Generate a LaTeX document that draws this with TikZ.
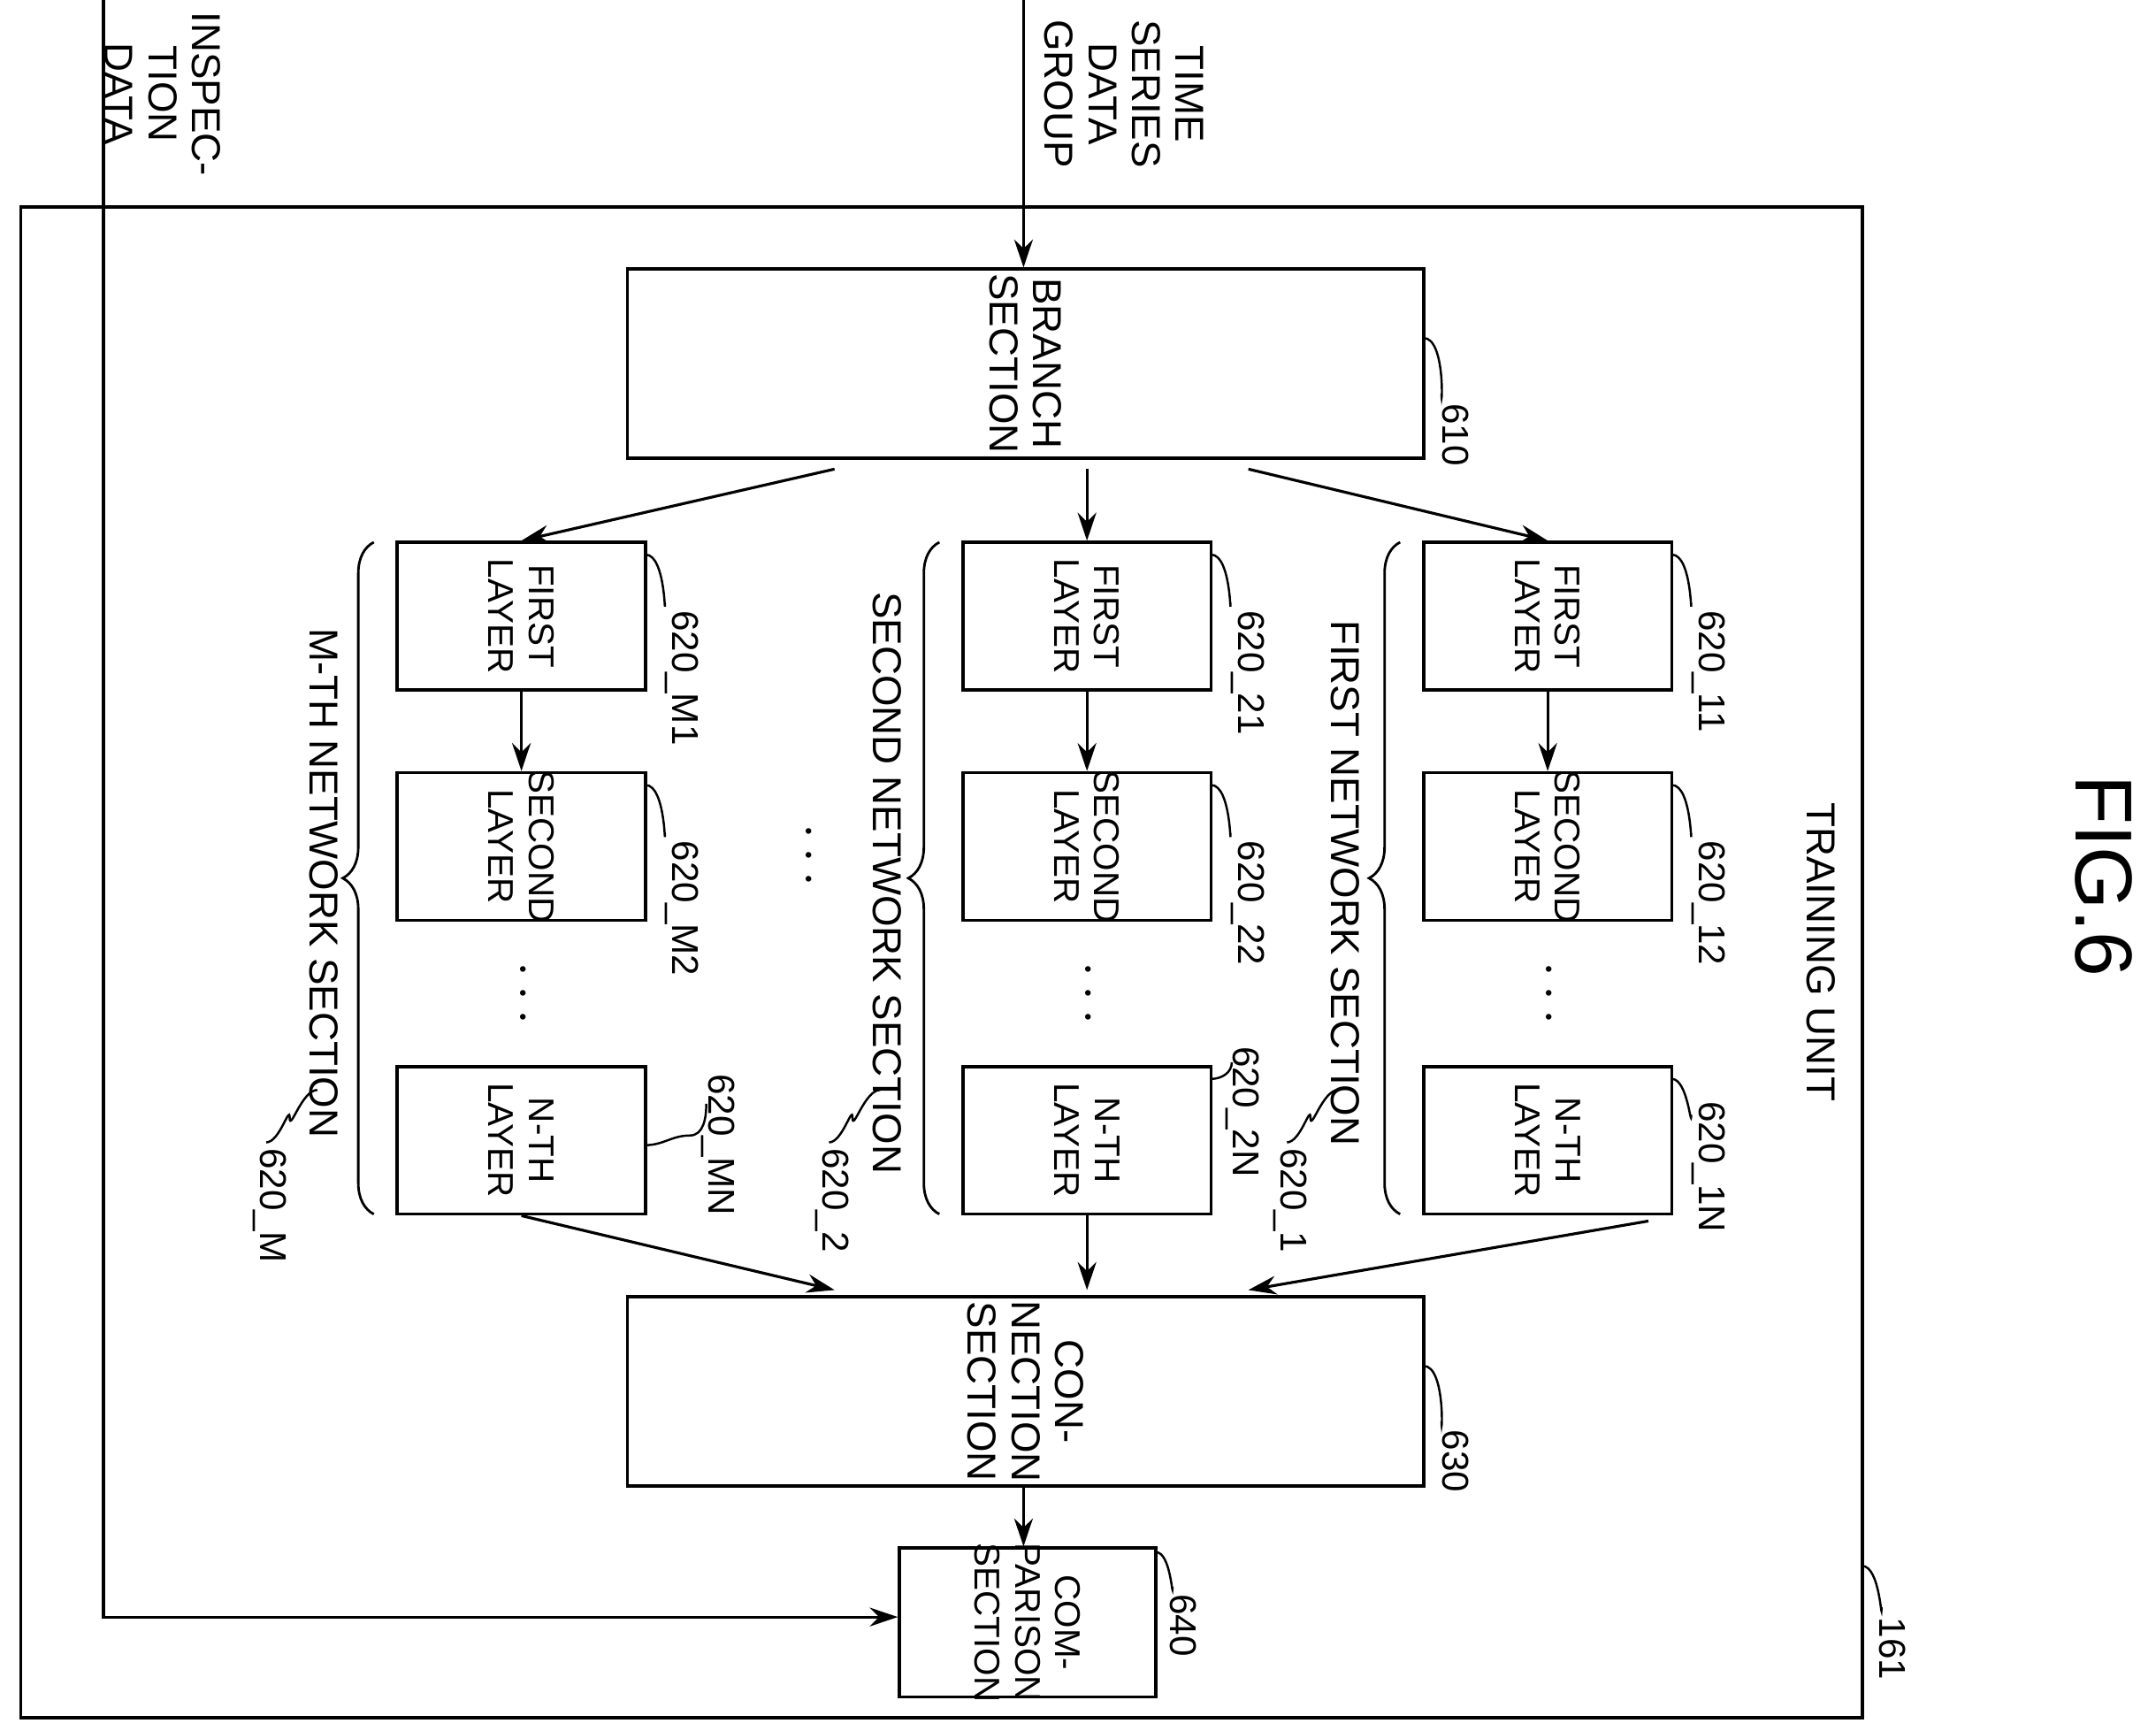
\documentclass[tikz,border=0pt]{standalone}
\usepackage{fontspec}
\setmainfont{Liberation Sans}
\usetikzlibrary{arrows.meta,decorations.pathreplacing}
\begin{document}
\begin{tikzpicture}[x=0.0156cm,y=-0.0156cm,
  box/.style={draw,line width=1pt},
  t/.style={rotate=-90,align=center,font=\fontsize{13}{14}\selectfont,inner sep=0pt},
  tl/.style={t,font=\fontsize{11.5}{13}\selectfont},
  lb/.style={rotate=-90,font=\fontsize{12}{13}\selectfont,inner sep=0pt,anchor=south west},
  ar/.style={-{Stealth[length=9pt,width=6pt]},line width=0.9pt},
  ld/.style={line width=0.7pt},
  br/.style={decorate,decoration={brace,amplitude=10pt},line width=0.8pt}]
\useasboundingbox (0,0) rectangle (1563,1254);
\draw[box] (15,150) rectangle (1350,1245);
\node[t] (fig) at (1525,635) {\fontsize{26}{28}\selectfont FIG.6};
\node[t] (tu) at (1320,690) {TRAINING UNIT};
\draw[ld] (1350,1135) to[out=0,in=270] (1364,1165);
\node[lb] (n161) at (1362,1172) {161};
% inputs
\node[t] (insp) at (118,68) {INSPEC-\\TION\\DATA};
\node[t] (ts) at (815,68) {TIME\\SERIES\\DATA\\GROUP};
\coordinate (i0) at (75,0); \coordinate (i1) at (75,1172);
\coordinate (t0) at (742,0);
% boxes
\node[box,minimum width=577*0.0156cm,minimum height=137*0.0156cm] (br) at (743.5,263.5) {};
\node[t] at (br) {BRANCH\\SECTION};
\node[box,minimum width=577*0.0156cm,minimum height=137*0.0156cm] (cn) at (743.5,1008.5) {};
\node[t] at (cn) {CON-\\NECTION\\SECTION};
\node[box,minimum width=186*0.0156cm,minimum height=108*0.0156cm] (cp) at (745,1176) {};
\node[tl] at (cp) {COM-\\PARISON\\SECTION};
\draw[ar] (t0) -- (br.north -| t0);
\draw[ar] (i0) -- (i1) -- (cp.west |- i1);
\draw[ar] (cn.south -| 742,0) -- (cp.north -| 742,0);
% columns
\foreach \c/\x/\k/\nm/\nx in {M/378/M/M-TH NETWORK SECTION/235, 2/788/2/SECOND NETWORK SECTION/643, 1/1122/1/FIRST NETWORK SECTION/975}{
  \node[box,minimum width=180*0.0156cm,minimum height=107*0.0156cm] (f\c) at (\x,446.5) {};
  \node[tl] at (f\c) {FIRST\\LAYER};
  \node[box,minimum width=180*0.0156cm,minimum height=107*0.0156cm] (s\c) at (\x,613.5) {};
  \node[tl] at (s\c) {SECOND\\LAYER};
  \node[box,minimum width=180*0.0156cm,minimum height=107*0.0156cm] (n\c) at (\x,826.5) {};
  \node[tl] at (n\c) {N-TH\\LAYER};
  \draw[ar] (f\c.south) -- (s\c.north);
  \node[t] (d\c) at (\x,720) {\fontsize{18}{18}\selectfont $\cdots$};
  \draw[br] (\x-107,880) -- (\x-107,393) coordinate (b\c);
  \node[t] (ns\c) at (\nx,640) {\nm};
  \draw[ld] (\nx-5,790) to[out=180,in=270] (\nx-25,810) to[out=90,in=0] (\nx-42,828);
  \node[lb] (lab\c) at (\nx-52,832) {620\_\k};
  \draw[ld] (\x+90,402) to[out=0,in=270] (\x+104,437);
  \node[lb] at (\x+104,442) {620\_\k1};
  \draw[ld] (\x+90,569) to[out=0,in=270] (\x+104,604);
  \node[lb] at (\x+104,609) {620\_\k2};
}
\draw[ld] (468,830) to[out=0,in=180] (500,823) to[out=0,in=270] (512,800); \node[lb] at (508,778) {620\_MN};
\draw[ld] (878,782) to[out=0,in=270] (893,770); \node[lb] at (888,758) {620\_2N};
\draw[ld] (1212,782) to[out=0,in=270] (1226,808); \node[lb] at (1226,798) {620\_1N};
\node[t] (dots) at (585,620) {\fontsize{18}{18}\selectfont $\cdots$};
\draw[ld] (1032,245) to[out=0,in=270] (1045,285); \node[lb] at (1045,292) {610};
\draw[ld] (1032,990) to[out=0,in=270] (1045,1030); \node[lb] at (1045,1036) {630};
\draw[ld] (838,1125) to[out=0,in=270] (850,1150); \node[lb] at (848,1155) {640};
% arrows
\draw[ar] (605,340) -- (fM.north);
\draw[ar] (788,340) -- (f2.north);
\draw[ar] (905,340) -- (f1.north);
\draw[ar] (nM.south) -- (605,935);
\draw[ar] (n2.south) -- (788,935);
\draw[ar] (1195,885) -- (905,935);
\end{tikzpicture}
\end{document}
